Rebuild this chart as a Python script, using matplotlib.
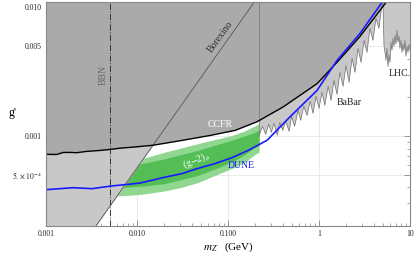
import numpy as np
import matplotlib
matplotlib.use("Agg")
import matplotlib.pyplot as plt
from matplotlib.ticker import FixedLocator, LogLocator, NullFormatter

plt.rcParams['font.family'] = ['Liberation Serif', 'DejaVu Serif']
plt.rcParams['mathtext.fontset'] = 'stix'

# CCFR bound (black line), region above is excluded
ccfr_m = [0.001, 0.00131, 0.00155, 0.00184, 0.00217, 0.0028, 0.00392, 0.00505,
          0.00651, 0.00904, 0.0108, 0.015, 0.03, 0.0634, 0.12, 0.208, 0.402,
          0.951, 1.58, 2.83, 5.45, 5.73]
ccfr_g = [7.21e-4, 7.19e-4, 7.46e-4, 7.46e-4, 7.42e-4, 7.6e-4, 7.73e-4, 7.87e-4,
          8.05e-4, 8.2e-4, 8.3e-4, 8.48e-4, 9.2e-4, 1.01e-3, 1.107e-3, 1.29e-3, 1.68e-3,
          2.55e-3, 3.74e-3, 5.95e-3, 0.0109, 0.0118]

# DUNE sensitivity (blue)
dune_m = [0.001, 0.00198, 0.0032, 0.00505, 0.0108, 0.02, 0.031, 0.045, 0.0719,
          0.11, 0.167, 0.269, 0.48, 0.951, 1.58, 2.83, 4.92, 5.18]
dune_g = [3.83e-4, 3.97e-4, 3.90e-4, 4.08e-4, 4.31e-4, 4.78e-4, 5.10e-4, 5.56e-4, 6.11e-4,
          6.78e-4, 7.74e-4, 9.27e-4, 1.41e-3, 2.26e-3, 3.87e-3, 6.28e-3, 0.0109, 0.0115]

# Borexino line
borexino_m = [0.0035, 0.2]
borexino_g = [1.98e-4, 0.0113]

bbn_m = 0.005

# (g-2)_mu bands
gm2_m = [0.003, 0.0074, 0.0113, 0.0203, 0.031, 0.0468, 0.072, 0.110, 0.15, 0.198, 0.22]
gm2_light_hi = [5.9e-4, 6.3e-4, 6.67e-4, 7.51e-4, 8.1e-4, 8.73e-4, 9.4e-4, 1.01e-3, 1.09e-3, 1.2e-3, 1.25e-3]
gm2_dark_hi = [5.4e-4, 5.8e-4, 6.11e-4, 6.67e-4, 7.2e-4, 7.74e-4, 8.5e-4, 9.27e-4, 1.0e-3, 1.07e-3, 1.12e-3]
gm2_dark_lo = [3.9e-4, 4.0e-4, 4.08e-4, 4.27e-4, 4.6e-4, 4.95e-4, 5.55e-4, 6.28e-4, 7.1e-4, 8.2e-4, 8.5e-4]
gm2_light_lo = [3.35e-4, 3.45e-4, 3.53e-4, 3.75e-4, 4.0e-4, 4.35e-4, 4.95e-4, 5.6e-4, 6.2e-4, 7.2e-4, 7.5e-4]

# BaBar bound (jagged)
babar_m = [0.22, 0.24, 0.26, 0.28, 0.30, 0.32, 0.35, 0.37, 0.40, 0.43, 0.47, 0.50,
           0.54, 0.59, 0.63, 0.68, 0.74, 0.80, 0.86, 0.93, 1.0, 1.08, 1.16, 1.26,
           1.36, 1.46, 1.58, 1.70, 1.84, 1.98, 2.14, 2.31, 2.49, 2.69, 2.90, 3.13,
           3.37, 3.63, 3.92, 4.23, 4.56, 4.92, 5.05]
babar_g = [1.012e-3, 1.190e-3, 1.031e-3, 1.233e-3, 1.068e-3, 1.256e-3, 1.012e-3, 1.278e-3,
           1.107e-3, 1.301e-3, 1.088e-3, 1.423e-3, 1.190e-3, 1.584e-3, 1.324e-3, 1.701e-3,
           1.448e-3, 1.861e-3, 1.501e-3, 2.035e-3, 1.641e-3, 2.185e-3, 1.731e-3, 2.433e-3,
           1.894e-3, 2.709e-3, 2.109e-3, 3.126e-3, 2.433e-3, 3.541e-3, 2.614e-3, 4.015e-3,
           3.126e-3, 4.801e-3, 3.738e-3, 5.540e-3, 4.470e-3, 6.866e-3, 5.540e-3, 8.21e-3,
           6.866e-3, 0.01036, 0.0115]

# LHC bound (jagged)
lhc_m = [5.05, 5.18, 5.31, 5.45, 5.59, 5.73, 5.88, 6.03, 6.18, 6.34, 6.51, 6.67, 6.84,
         7.02, 7.20, 7.38, 7.57, 7.76, 7.96, 8.17, 8.38, 8.59, 8.81, 9.04, 9.27, 9.51,
         9.75, 10.0]
lhc_g = [0.0115, 5.07e-3, 4.47e-3, 3.88e-3, 4.80e-3, 3.48e-3, 4.24e-3, 3.74e-3, 5.35e-3,
         4.63e-3, 5.74e-3, 4.98e-3, 6.06e-3, 5.16e-3, 6.63e-3, 5.35e-3, 5.95e-3, 4.80e-3,
         5.54e-3, 4.47e-3, 5.16e-3, 4.63e-3, 5.54e-3, 4.16e-3, 4.98e-3, 4.47e-3, 5.16e-3,
         4.63e-3]

x_ticks = [0.001, 0.01, 0.1, 1, 10]
x_labels = ["0.001", "0.010", "0.100", "1", "10"]
y_ticks = [5e-4, 0.001, 0.005, 0.010]
y_labels = [r"$5.\times10^{-4}$", "0.001", "0.005", "0.010"]

xmin, xmax = 0.001, 10
ymin, ymax = 2e-4, 0.011
ceil = 1.0

light = '#c8c8c8'
dark = '#aaaaaa'

fig = plt.figure(figsize=(4.15, 2.54), dpi=100)
ax = fig.add_axes([0.1108, 0.1102, 0.8771, 0.8819])
ax.set_xscale('log')
ax.set_yscale('log')

# faint grid
for xv in x_ticks:
    ax.axvline(xv, color='#e6e6e6', lw=0.6, zorder=0)
for yv in y_ticks:
    ax.axhline(yv, color='#e6e6e6', lw=0.6, zorder=0)

# (g-2) bands
ax.fill_between(gm2_m, gm2_light_lo, gm2_light_hi, color='#90d890', lw=0, zorder=1)
ax.fill_between(gm2_m, gm2_dark_lo, gm2_dark_hi, color='#55bd55', lw=0, zorder=1.5)

# Borexino
ax.fill_betweenx(borexino_g, xmin, borexino_m, color=light, lw=0, zorder=2)
# BaBar
ax.fill_between(babar_m, babar_g, ceil, color=light, lw=0, zorder=2)
ax.plot(babar_m, babar_g, color='#6e6e6e', lw=0.5, zorder=4)
ax.plot([babar_m[0], babar_m[0]], [babar_g[0], ceil], color='#808080', lw=0.6, zorder=4)
# LHC
ax.fill_between(lhc_m, lhc_g, ceil, color=light, lw=0, zorder=2)
ax.plot(lhc_m, lhc_g, color='#6e6e6e', lw=0.5, zorder=4)

# CCFR
ax.fill_between(ccfr_m, ccfr_g, ceil, color=dark, lw=0, zorder=3)
ax.plot(ccfr_m, ccfr_g, color='black', lw=1.0, zorder=5)

ax.plot(borexino_m, borexino_g, color='#555555', lw=0.6, zorder=4)
ax.axvline(bbn_m, color='#333333', lw=0.7, ls='-.', zorder=4)

ax.plot(dune_m, dune_g, color='#1a1aff', lw=1.2, zorder=6)

# labels
fs = 7
ax.text(0.00423, 2.96e-3, "BBN", rotation=90, color='#6a6a6a', fontsize=fs,
        ha='center', va='center', zorder=7)
ax.text(0.0817, 5.95e-3, "Borexino", rotation=54, color='#333333', fontsize=fs,
        ha='center', va='center', zorder=7)
ax.text(0.0817, 1.233e-3, "CCFR", color='white', fontsize=fs,
        ha='center', va='center', zorder=7)
ax.text(0.0453, 6.47e-4, r"(g$-$2)$_\mu$", rotation=23, color='white', fontsize=fs,
        ha='center', va='center', zorder=7)
ax.text(0.139, 5.95e-4, "DUNE", color='#1a1aff', fontsize=fs,
        ha='center', va='center', zorder=7)
ax.text(2.15, 1.82e-3, "BaBar", color='#222222', fontsize=fs,
        ha='center', va='center', zorder=7)
ax.text(7.45, 3.05e-3, "LHC", color='#222222', fontsize=fs,
        ha='center', va='center', zorder=7)

ax.set_xlim(xmin, xmax)
ax.set_ylim(ymin, ymax)

ax.xaxis.set_major_locator(FixedLocator(x_ticks))
ax.set_xticklabels(x_labels)
ax.xaxis.set_minor_locator(LogLocator(base=10, subs=np.arange(2, 10)))
ax.xaxis.set_minor_formatter(NullFormatter())
ax.yaxis.set_major_locator(FixedLocator(y_ticks))
ax.set_yticklabels(y_labels)
ax.yaxis.set_minor_locator(LogLocator(base=10, subs=np.arange(1, 10)))
ax.yaxis.set_minor_formatter(NullFormatter())

ax.tick_params(which='both', direction='in', top=True, right=True, color='#888888',
               labelsize=5.5, labelcolor='#222222', pad=3)
ax.tick_params(which='major', length=4, width=0.6)
ax.tick_params(which='minor', length=2, width=0.5)
for s in ax.spines.values():
    s.set_color('#888888')
    s.set_linewidth(0.8)
    s.set_zorder(10)

ax.set_xlabel(r"$m_{Z'}$  (GeV)", fontsize=8, labelpad=2)
fig.text(12 / 415, 1 - 113 / 254, "g'", fontsize=8.5, ha='center', va='center')

fig.savefig("out.png", dpi=100)
